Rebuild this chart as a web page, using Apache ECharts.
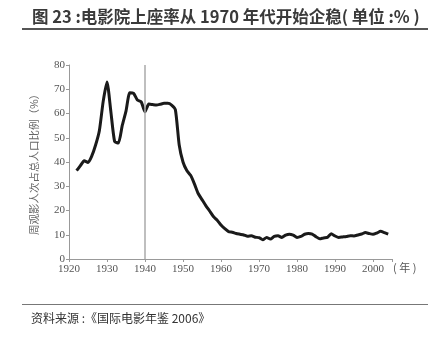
<!DOCTYPE html>
<html><head><meta charset="utf-8">
<script src="https://cdn.jsdelivr.net/npm/echarts@6/dist/echarts.min.js"></script>
<style>html,body{margin:0;padding:0;background:#fff}#c{width:431px;height:337px}</style>
</head><body><div id="c"></div>
<script>
const years = [];
for (let y = 1922; y <= 2004; y++) years.push(y);
const attendance = [
36.4,38.5,40.5,39.8,42.5,47,53,65,73,61,
48.5,47.8,55,61,68.6,68.3,65.6,64.8,60.7,63.9,
63.7,63.5,63.8,64.2,64.2,63.5,61.5,47,40,36.5,
34.5,31,27,24.5,22,19.8,17.5,16,14,12.5,
11.3,11,10.5,10.2,9.9,9.4,9.6,9.0,8.8,7.9,
8.9,8.2,9.3,9.6,8.9,9.8,10.2,9.8,8.9,9.3,
10.2,10.5,10.3,9.2,8.3,8.7,8.9,10.4,9.5,8.9,
9.1,9.3,9.6,9.5,9.9,10.3,10.9,10.5,10.2,10.7,
11.4,10.9,10.3];
const markYear = 1940;
const titleText = '图 23 :电影院上座率从 1970 年代开始企稳( 单位 :% )';
const sourceText = '资料来源 :《国际电影年鉴 2006》';
const yName = '周观影人次占总人口比例（%）';
const xName = '( 年 )';

const chart = echarts.init(document.getElementById('c'), null, {renderer:'canvas'});
const serif = '"Liberation Serif","DejaVu Serif",serif';
chart.setOption({
  animation:false,
  grid:{left:69,right:39,top:65,bottom:78,containLabel:false},
  xAxis:{type:'value',min:1920,max:2005,interval:10,
    name:xName,nameLocation:'end',nameGap:1,
    nameTextStyle:{color:'#555',fontSize:11,fontFamily:'"Noto Sans CJK SC"',padding:[3,0,0,0],verticalAlign:'top'},
    axisLine:{lineStyle:{color:'#999',width:1}},
    axisTick:{show:true,length:3,lineStyle:{color:'#999'}},
    axisLabel:{color:'#555',fontSize:11,fontFamily:serif,margin:5,
      formatter:v=> v>2000 ? '' : String(v)},
    splitLine:{show:false}},
  yAxis:{type:'value',min:0,max:80,interval:10,
    name:yName,nameLocation:'middle',nameGap:30,nameRotate:90,
    nameTextStyle:{color:'#666',fontSize:10.5,fontFamily:'"Noto Sans CJK SC"'},
    axisLine:{show:true,lineStyle:{color:'#999',width:1}},
    axisTick:{show:true,length:3,lineStyle:{color:'#999'}},
    axisLabel:{color:'#555',fontSize:11,fontFamily:serif,margin:4},
    splitLine:{show:false}},
  series:[{type:'line',data:years.map((y,i)=>[y,attendance[i]]),
    symbol:'none',smooth:0.2,
    lineStyle:{color:'#1a1a1a',width:3},
    markLine:{silent:true,symbol:'none',label:{show:false},
      lineStyle:{color:'#aaa',width:1.5,type:'solid'},
      data:[[{coord:[markYear,0]},{coord:[markYear,80]}]]}}],
  graphic:[
    {type:'text',left:32,top:8,style:{text:titleText,fill:'#3a3a3a',
      font:'bold 16.5px "Noto Sans CJK SC"'}},
    {type:'rect',shape:{x:22,y:28,width:406,height:2},style:{fill:'#555'}},
    {type:'rect',shape:{x:22,y:304,width:406,height:1},style:{fill:'#777'}},
    {type:'text',left:31,top:312,style:{text:sourceText,fill:'#333',
      font:'12px "Noto Sans CJK SC"'}}
  ]
});
</script></body></html>
